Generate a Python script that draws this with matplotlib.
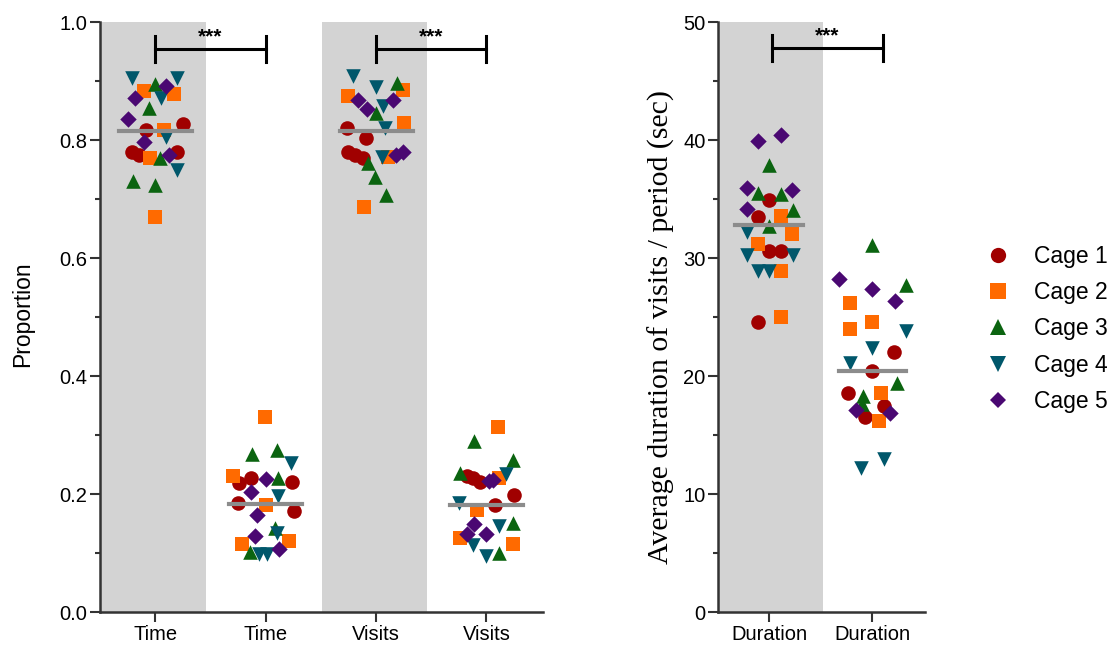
import numpy as np
import matplotlib
matplotlib.use('Agg')
import matplotlib.pyplot as plt
from matplotlib import font_manager
from matplotlib.lines import Line2D

## data

cages = ['Cage 1', 'Cage 2', 'Cage 3', 'Cage 4', 'Cage 5']
cageColors = ['#a00000', '#ff6a00', '#0b6410', '#00576b', '#4a0872']
cageMarkers = ['o', 's', '^', 'v', 'D']

leftLabels = ['Time', 'Time', 'Visits', 'Visits']
rightLabels = ['Duration', 'Duration']

# each group: per cage list of (jitter offset, value)
time_in = {
    'Cage 1': [(-0.08, 0.817), (0.25, 0.827), (-0.21, 0.779), (-0.15, 0.775), (0.20, 0.779)],
    'Cage 2': [(-0.10, 0.884), (0.17, 0.878), (0.08, 0.817), (-0.05, 0.769), (0.00, 0.670)],
    'Cage 3': [(0.00, 0.895), (-0.06, 0.854), (0.04, 0.770), (-0.20, 0.730), (0.00, 0.724)],
    'Cage 4': [(-0.21, 0.905), (0.20, 0.906), (0.05, 0.871), (0.10, 0.806), (0.20, 0.749)],
    'Cage 5': [(0.10, 0.891), (-0.18, 0.871), (-0.25, 0.836), (-0.10, 0.796), (0.12, 0.775)],
}
time_out = {
    'Cage 1': [(-0.24, 0.219), (-0.13, 0.228), (0.24, 0.220), (-0.25, 0.184), (0.26, 0.172)],
    'Cage 2': [(-0.01, 0.330), (-0.30, 0.231), (0.00, 0.181), (-0.21, 0.116), (0.21, 0.120)],
    'Cage 3': [(-0.12, 0.268), (0.10, 0.275), (0.11, 0.228), (0.08, 0.143), (-0.14, 0.101)],
    'Cage 4': [(0.23, 0.253), (0.11, 0.197), (0.10, 0.134), (-0.06, 0.098), (0.01, 0.098)],
    'Cage 5': [(0.00, 0.225), (-0.13, 0.203), (-0.08, 0.164), (-0.10, 0.129), (0.12, 0.107)],
}
visits_in = {
    'Cage 1': [(-0.26, 0.820), (-0.09, 0.804), (-0.25, 0.779), (-0.19, 0.775), (-0.12, 0.770)],
    'Cage 2': [(0.24, 0.885), (-0.25, 0.874), (0.25, 0.829), (0.11, 0.772), (-0.11, 0.687)],
    'Cage 3': [(0.19, 0.897), (0.00, 0.846), (-0.07, 0.761), (-0.01, 0.738), (0.09, 0.707)],
    'Cage 4': [(-0.21, 0.908), (0.00, 0.890), (0.06, 0.858), (0.08, 0.820), (0.05, 0.772)],
    'Cage 5': [(-0.16, 0.868), (-0.08, 0.853), (0.15, 0.868), (0.18, 0.775), (0.24, 0.779)],
}
visits_out = {
    'Cage 1': [(-0.18, 0.231), (-0.12, 0.227), (-0.06, 0.220), (0.08, 0.181), (0.25, 0.198)],
    'Cage 2': [(0.10, 0.313), (0.11, 0.228), (-0.09, 0.173), (-0.24, 0.126), (0.24, 0.115)],
    'Cage 3': [(-0.11, 0.290), (0.24, 0.258), (-0.24, 0.236), (0.24, 0.151), (0.11, 0.100)],
    'Cage 4': [(0.18, 0.234), (-0.25, 0.184), (0.11, 0.146), (-0.12, 0.114), (0.00, 0.095)],
    'Cage 5': [(0.02, 0.222), (0.06, 0.224), (-0.11, 0.149), (-0.18, 0.133), (0.00, 0.133)],
}
dur_in = {
    'Cage 1': [(0.00, 34.9), (-0.11, 33.5), (0.00, 30.6), (0.11, 30.6), (-0.11, 24.6)],
    'Cage 2': [(0.11, 33.6), (0.22, 32.0), (-0.11, 31.2), (0.11, 28.9), (0.11, 25.0)],
    'Cage 3': [(0.00, 37.9), (-0.11, 35.5), (0.11, 35.4), (0.23, 34.1), (0.00, 32.7)],
    'Cage 4': [(-0.22, 32.2), (-0.22, 30.3), (0.23, 30.3), (-0.11, 28.9), (0.00, 28.9)],
    'Cage 5': [(-0.11, 39.9), (0.11, 40.4), (-0.22, 35.9), (0.22, 35.8), (-0.22, 34.2)],
}
dur_out = {
    'Cage 1': [(0.21, 22.0), (0.00, 20.4), (-0.24, 18.6), (0.11, 17.5), (-0.07, 16.5)],
    'Cage 2': [(-0.22, 26.2), (0.00, 24.6), (-0.22, 24.0), (0.08, 18.6), (0.06, 16.2)],
    'Cage 3': [(0.00, 31.1), (0.33, 27.7), (0.24, 19.4), (-0.09, 18.3), (-0.10, 17.6)],
    'Cage 4': [(0.33, 23.8), (0.00, 22.4), (-0.22, 21.1), (0.11, 13.0), (-0.11, 12.2)],
    'Cage 5': [(-0.33, 28.2), (0.00, 27.4), (0.22, 26.4), (-0.16, 17.1), (0.17, 16.9)],
}

leftGroups = [time_in, time_out, visits_in, visits_out]
rightGroups = [dur_in, dur_out]
leftMeans = [0.815, 0.183, 0.816, 0.182]
rightMeans = [32.8, 20.4]


## plotting

plt.rcParams['font.family'] = ['Liberation Sans', 'DejaVu Sans']

# tick labels in the original are a condensed sans
try:
    font_manager.findfont('Liberation Sans Narrow', fallback_to_default=False)
    tickFont, tickSize = 'Liberation Sans Narrow', 17
except ValueError:
    tickFont, tickSize = 'Liberation Sans', 14.5

fig = plt.figure(figsize=(11.18, 6.54), dpi=100)
ax1 = fig.add_axes([0.0895, 0.0642, 0.396, 0.902])
ax2 = fig.add_axes([0.6422, 0.0642, 0.1852, 0.902])

def drawGroups(ax, groups, means):
    for i, grp in enumerate(groups):
        for c, cage in enumerate(cages):
            pts = np.array(grp[cage])
            ax.scatter(i + pts[:, 0], pts[:, 1], s=110 if cageMarkers[c] != 'D' else 70,
                       marker=cageMarkers[c], color=cageColors[c], linewidths=0, zorder=3)
        ax.plot([i - 0.33, i + 0.33], [means[i], means[i]], color='#8c8c8c', lw=3, zorder=4)

def styleAxis(ax, labels, ymax, major, minor):
    for s in ['top', 'right']:
        ax.spines[s].set_visible(False)
    for s in ['left', 'bottom']:
        ax.spines[s].set_color('#333333')
        ax.spines[s].set_linewidth(1.8)
    ax.set_ylim(0, ymax)
    ax.set_xlim(-0.5, len(labels) - 0.49)
    ax.set_yticks(np.arange(0, ymax + major / 2, major))
    ax.set_yticks(np.arange(minor, ymax, major), minor=True)
    ax.set_xticks(range(len(labels)))
    ax.set_xticklabels(labels)
    ax.tick_params(axis='both', which='major', length=7, width=1.5, color='#333333',
                   labelsize=tickSize, pad=2, direction='out')
    ax.tick_params(axis='y', which='minor', length=3.5, width=1.5, color='#333333')
    for lab in ax.get_xticklabels() + ax.get_yticklabels():
        lab.set_family(tickFont)

def sigBar(ax, x0, x1, y, cap):
    ax.plot([x0, x1], [y, y], color='black', lw=2.2, zorder=5, clip_on=False)
    ax.plot([x0, x0], [y - cap, y + cap], color='black', lw=2.2, zorder=5, clip_on=False)
    ax.plot([x1, x1], [y - cap, y + cap], color='black', lw=2.2, zorder=5, clip_on=False)
    ax.text((x0 + x1) / 2, y + cap * 0.2, '***', ha='center', va='bottom', fontsize=15,
            fontweight='bold', zorder=6)

# left panel
for c in [0, 2]:
    ax1.axvspan(c - 0.49, c + 0.46, color='#d3d3d3', lw=0, zorder=0)
drawGroups(ax1, leftGroups, leftMeans)
styleAxis(ax1, leftLabels, 1.0, 0.2, 0.1)
ax1.yaxis.set_major_formatter(matplotlib.ticker.FormatStrFormatter('%.1f'))
ax1.set_ylabel('Proportion', fontsize=16.5, labelpad=18)
ax1.yaxis.label.set_y(0.505)
sigBar(ax1, 0, 1, 0.954, 0.022)
sigBar(ax1, 2, 3, 0.954, 0.022)

# right panel
ax2.axvspan(-0.5, 0.52, color='#d3d3d3', lw=0, zorder=0)
drawGroups(ax2, rightGroups, rightMeans)
styleAxis(ax2, rightLabels, 50, 10, 5)
ax2.set_ylabel('Average duration of visits / period (sec)', fontsize=21.5,
               family=['Liberation Serif', 'DejaVu Serif'], labelpad=6)
ax2.yaxis.label.set_y(0.483)
sigBar(ax2, 0.02, 1.1, 47.8, 1.1)

# legend
handles = [Line2D([], [], marker=cageMarkers[c], color=cageColors[c], ls='none',
                  markersize=11 if cageMarkers[c] != 'D' else 8, markeredgewidth=0)
           for c in range(len(cages))]
fig.legend(handles, cages, loc='center left', bbox_to_anchor=(0.862, 0.497), frameon=False,
           fontsize=16.5, handletextpad=0.95, labelspacing=0.58, handlelength=1.2)

fig.savefig('out.png', dpi=100)
